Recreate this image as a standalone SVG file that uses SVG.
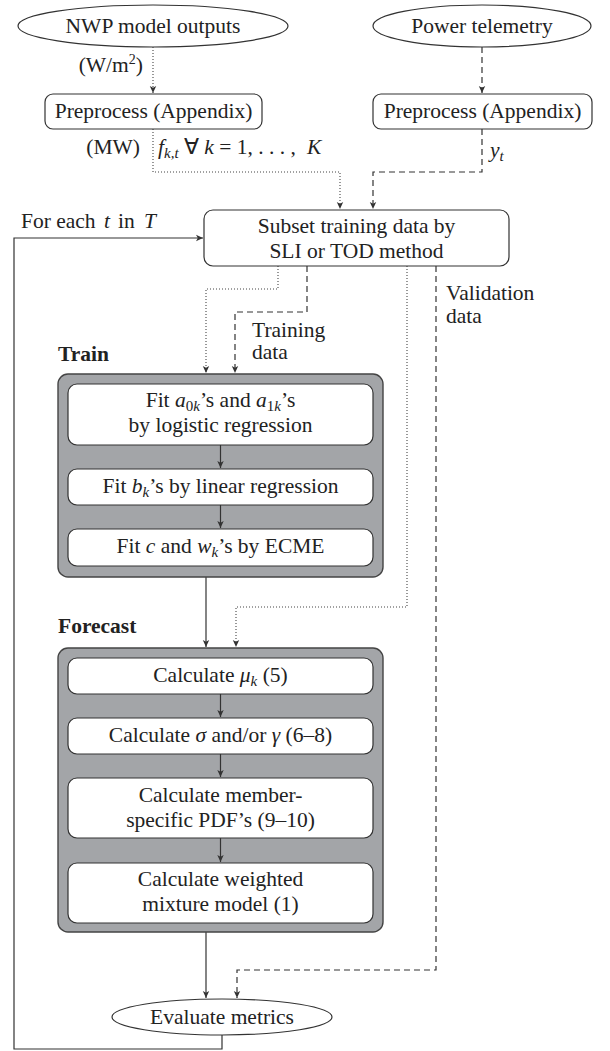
<svg xmlns="http://www.w3.org/2000/svg" width="610" height="1051" viewBox="0 0 610 1051">
  <style>
    text { font-family: "Liberation Serif", "Times New Roman", serif; font-size: 21.5px; fill: #222; }
    .c { text-anchor: middle; }
    .i { font-style: italic; }
    .sub { font-size: 15px; font-style: italic; }
    .b { font-weight: bold; }
    .node { fill: #fff; stroke: #333; stroke-width: 1.2; }
    .group { fill: #a3a5a8; stroke: #444; stroke-width: 1.4; }
    .solid { fill: none; stroke: #333; stroke-width: 1.2; }
    .dotted { fill: none; stroke: #444; stroke-width: 1.1; stroke-dasharray: 1 2; }
    .dashed { fill: none; stroke: #333; stroke-width: 1.2; stroke-dasharray: 6 4; }
  </style>
  <defs>
    <marker id="arrow" markerUnits="userSpaceOnUse" markerWidth="10" markerHeight="10" viewBox="-8 -5 10 10" refX="0" refY="0" orient="auto">
      <path d="M0,0 L-7,-3.2 L-5.2,0 L-7,3.2 Z" fill="#333"/>
    </marker>
  </defs>

  <!-- connectors -->
  <g id="connectors">
    <path class="dotted" d="M153,47 V93" marker-end="url(#arrow)"/>
    <path class="dashed" d="M482,47 V93" marker-end="url(#arrow)"/>
    <path class="dotted" d="M153,129 V172 H340 V209" marker-end="url(#arrow)"/>
    <path class="dashed" d="M482,129 V172 H373 V209" marker-end="url(#arrow)"/>
    <path class="solid" d="M222,1035 V1049 H14 V238 H203" marker-end="url(#arrow)"/>
    <path class="dotted" d="M278,266 V289 H206 V373" marker-end="url(#arrow)"/>
    <path class="dashed" d="M307,266 V312 H235 V373" marker-end="url(#arrow)"/>
    <path class="dotted" d="M407,266 V607 H236 V647" marker-end="url(#arrow)"/>
    <path class="dashed" d="M436,266 V970 H237 V998" marker-end="url(#arrow)"/>
    <path class="solid" d="M206,577 V647" marker-end="url(#arrow)"/>
    <path class="solid" d="M206,932 V998" marker-end="url(#arrow)"/>
  </g>

  <!-- edge labels -->
  <g id="labels">
    <text x="143" y="72" text-anchor="end">(W/m<tspan font-size="14" dy="-8">2</tspan><tspan dy="8">)</tspan></text>
    <text x="140" y="154" text-anchor="end">(MW)</text>
    <text x="158" y="154"><tspan class="i">f</tspan><tspan class="sub" dy="4">k,t</tspan><tspan dy="-4"> ∀ </tspan><tspan class="i">k</tspan> = 1, . . . ,<tspan class="i" x="307">K</tspan></text>
    <text x="490" y="157"><tspan class="i">y</tspan><tspan class="sub" dy="4">t</tspan></text>
    <text y="228"><tspan x="21">For each</tspan><tspan class="i" x="104">t</tspan><tspan x="118">in</tspan><tspan class="i" x="144">T</tspan></text>
    <text x="252" y="337">Training</text>
    <text x="252" y="359">data</text>
    <text x="446" y="300">Validation</text>
    <text x="446" y="323">data</text>
  </g>

  <g id="nwp">
    <ellipse class="node" cx="153" cy="26" rx="135" ry="21"/>
    <text class="c" x="153" y="33">NWP model outputs</text>
  </g>
  <g id="power">
    <ellipse class="node" cx="482" cy="26" rx="109" ry="21"/>
    <text class="c" x="482" y="33">Power telemetry</text>
  </g>
  <g id="preprocess-nwp">
    <rect class="node" x="45" y="94" width="217" height="35" rx="8"/>
    <text class="c" x="153.5" y="118">Preprocess (Appendix)</text>
  </g>
  <g id="preprocess-power">
    <rect class="node" x="373" y="94" width="219" height="35" rx="8"/>
    <text class="c" x="482.5" y="118">Preprocess (Appendix)</text>
  </g>
  <g id="subset">
    <rect class="node" x="204" y="210" width="305" height="56" rx="9"/>
    <text class="c" x="356.5" y="233">Subset training data by</text>
    <text class="c" x="356.5" y="258">SLI or TOD method</text>
  </g>

  <g id="train">
    <text class="b" x="58" y="361">Train</text>
    <rect class="group" x="58" y="374" width="325" height="203" rx="10"/>
  </g>
  <g id="fit-a">
    <rect class="node" x="68" y="384" width="305" height="61" rx="9"/>
    <text class="c" x="220.5" y="407">Fit <tspan class="i">a</tspan><tspan class="sub" dy="4"><tspan font-style="normal">0</tspan>k</tspan><tspan dy="-4">’s and </tspan><tspan class="i">a</tspan><tspan class="sub" dy="4"><tspan font-style="normal">1</tspan>k</tspan><tspan dy="-4">’s</tspan></text>
    <text class="c" x="220.5" y="432">by logistic regression</text>
  </g>
  <g id="fit-b">
    <rect class="node" x="68" y="469" width="305" height="36" rx="9"/>
    <text class="c" x="220.5" y="493">Fit <tspan class="i">b</tspan><tspan class="sub" dy="4">k</tspan><tspan dy="-4">’s by linear regression</tspan></text>
  </g>
  <g id="fit-c">
    <rect class="node" x="68" y="529" width="305" height="37" rx="9"/>
    <text class="c" x="220.5" y="553">Fit <tspan class="i">c</tspan> and <tspan class="i">w</tspan><tspan class="sub" dy="4">k</tspan><tspan dy="-4">’s by ECME</tspan></text>
  </g>
  <g id="train-arrows">
    <path class="solid" d="M220.5,445 V468" marker-end="url(#arrow)"/>
    <path class="solid" d="M220.5,505 V528" marker-end="url(#arrow)"/>
  </g>

  <g id="forecast">
    <text class="b" x="58" y="633">Forecast</text>
    <rect class="group" x="58" y="648" width="325" height="284" rx="10"/>
  </g>
  <g id="calc-mu">
    <rect class="node" x="68" y="658" width="305" height="36" rx="9"/>
    <text class="c" x="220.5" y="682">Calculate <tspan class="i">μ</tspan><tspan class="sub" dy="4">k</tspan><tspan dy="-4"> (5)</tspan></text>
  </g>
  <g id="calc-sigma">
    <rect class="node" x="68" y="718" width="305" height="36" rx="9"/>
    <text class="c" x="220.5" y="742">Calculate <tspan class="i">σ</tspan> and/or <tspan class="i">γ</tspan> (6–8)</text>
  </g>
  <g id="calc-pdf">
    <rect class="node" x="68" y="778" width="305" height="60" rx="9"/>
    <text class="c" x="220.5" y="802">Calculate member-</text>
    <text class="c" x="220.5" y="827">specific PDF’s (9–10)</text>
  </g>
  <g id="calc-mixture">
    <rect class="node" x="68" y="863" width="305" height="60" rx="9"/>
    <text class="c" x="220.5" y="886">Calculate weighted</text>
    <text class="c" x="220.5" y="911">mixture model (1)</text>
  </g>
  <g id="forecast-arrows">
    <path class="solid" d="M220.5,694 V717" marker-end="url(#arrow)"/>
    <path class="solid" d="M220.5,754 V777" marker-end="url(#arrow)"/>
    <path class="solid" d="M220.5,838 V862" marker-end="url(#arrow)"/>
  </g>

  <g id="evaluate">
    <ellipse class="node" cx="222" cy="1017" rx="110" ry="18"/>
    <text class="c" x="222" y="1024">Evaluate metrics</text>
  </g>
</svg>
